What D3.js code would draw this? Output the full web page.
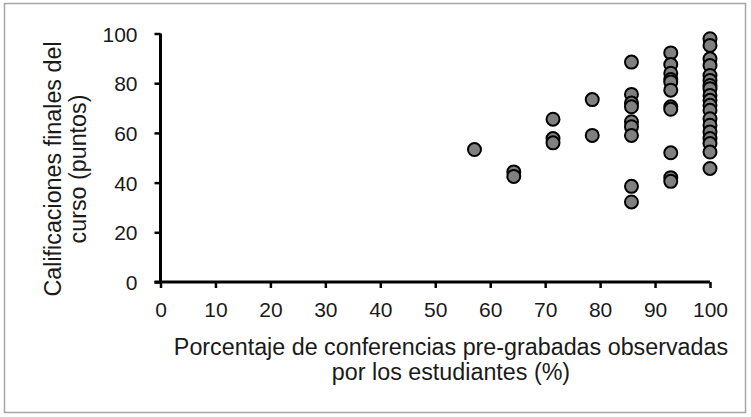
<!DOCTYPE html>
<html>
<head>
<meta charset="utf-8">
<script src="https://cdn.jsdelivr.net/npm/d3@7"></script>
<style>
  html, body { margin: 0; padding: 0; background: #fff; }
  svg { display: block; }
  text { font-family: "Liberation Sans", Arial, sans-serif; fill: #1a1a1a; }
</style>
</head>
<body>
<svg id="chart" width="751" height="417"></svg>
<script>
// Percentage of pre-recorded lectures watched (x) and final course grade (y)
const pctWatched = [
  57.14,
  64.29, 64.29,
  71.43, 71.43, 71.43,
  78.57, 78.57,
  85.71, 85.71, 85.71, 85.71, 85.71, 85.71, 85.71, 85.71, 85.71,
  92.86, 92.86, 92.86, 92.86, 92.86, 92.86, 92.86, 92.86, 92.86, 92.86, 92.86,
  100, 100, 100, 100, 100, 100, 100, 100, 100, 100, 100, 100, 100, 100, 100, 100, 100, 100, 100
];
const finalGrades = [
  53.3,
  44.3, 42.5,
  65.5, 57.7, 56.0,
  73.4, 59.0,
  88.5, 75.5, 72.0, 70.5, 64.5, 62.5, 59.0, 38.5, 32.2,
  92.2, 87.5, 84.0, 81.5, 80.5, 77.2, 70.5, 69.5, 52.0, 42.0, 40.5,
  97.9, 95.2, 89.8, 87.1, 83.1, 81.1, 79.1, 77.8, 75.1, 73.1, 71.1, 69.1, 65.7, 63.1, 60.4, 57.7, 55.7, 52.3, 45.7
];
const xTicks = [0, 10, 20, 30, 40, 50, 60, 70, 80, 90, 100];
const yTicks = [0, 20, 40, 60, 80, 100];
const xTitle = ["Porcentaje de conferencias pre-grabadas observadas", "por los estudiantes (%)"];
const yTitle = ["Calificaciones finales del", "curso (puntos)"];

const svg = d3.select("#chart");

// outer frame
svg.append("rect")
  .attr("x", 4.5).attr("y", 3.5).attr("width", 741).attr("height", 409)
  .attr("fill", "none").attr("stroke", "#a6a6a6").attr("stroke-width", 1.5);

const x = d3.scaleLinear().domain([0, 100]).range([160.5, 710]);
const y = d3.scaleLinear().domain([0, 100]).range([282, 33.5]);

const tickFs = 21;
const titleFs = 23.3;

// x axis
const gx = svg.append("g").attr("transform", `translate(0,${y(0)})`)
  .call(d3.axisBottom(x).tickValues(xTicks).tickSize(6).tickPadding(14).tickFormat(d3.format("d")));
// y axis
const gy = svg.append("g").attr("transform", `translate(${x(0)},0)`)
  .call(d3.axisLeft(y).tickValues(yTicks).tickSize(6).tickPadding(17).tickFormat(d3.format("d")));

[gx, gy].forEach(g => {
  g.select(".domain").attr("stroke", "#000").attr("stroke-width", 3);
  g.selectAll(".tick line").attr("stroke", "#000").attr("stroke-width", 2.5);
  g.selectAll(".tick text").attr("font-size", tickFs).attr("fill", "#1a1a1a")
    .style("font-family", "'Liberation Sans', Arial, sans-serif");
});
gx.select(".domain").attr("d", `M${x(0) - 6},0H${x(100)}`);
gy.select(".domain").attr("d", `M0,${y(100)}V${y(0)}`);
gy.selectAll(".tick text").attr("dy", "0.36em");

// points
const pts = pctWatched.map((v, i) => ({ px: v, gy: finalGrades[i] }));
svg.append("g").selectAll("circle").data(pts).join("circle")
  .attr("cx", d => x(d.px))
  .attr("cy", d => y(d.gy))
  .attr("r", 6.5)
  .attr("fill", "#808080")
  .attr("stroke", "#000")
  .attr("stroke-width", 2);

// x title
svg.append("g").selectAll("text").data(xTitle).join("text")
  .attr("x", 451).attr("y", (d, i) => 355 + i * 25)
  .attr("text-anchor", "middle").attr("font-size", titleFs)
  .text(d => d);

// y title
const yt = svg.append("g").attr("transform", "translate(0,169) rotate(-90)");
yt.selectAll("text").data(yTitle).join("text")
  .attr("x", 0).attr("y", (d, i) => 61 + i * 25)
  .attr("text-anchor", "middle").attr("font-size", titleFs)
  .text(d => d);
</script>
</body>
</html>
